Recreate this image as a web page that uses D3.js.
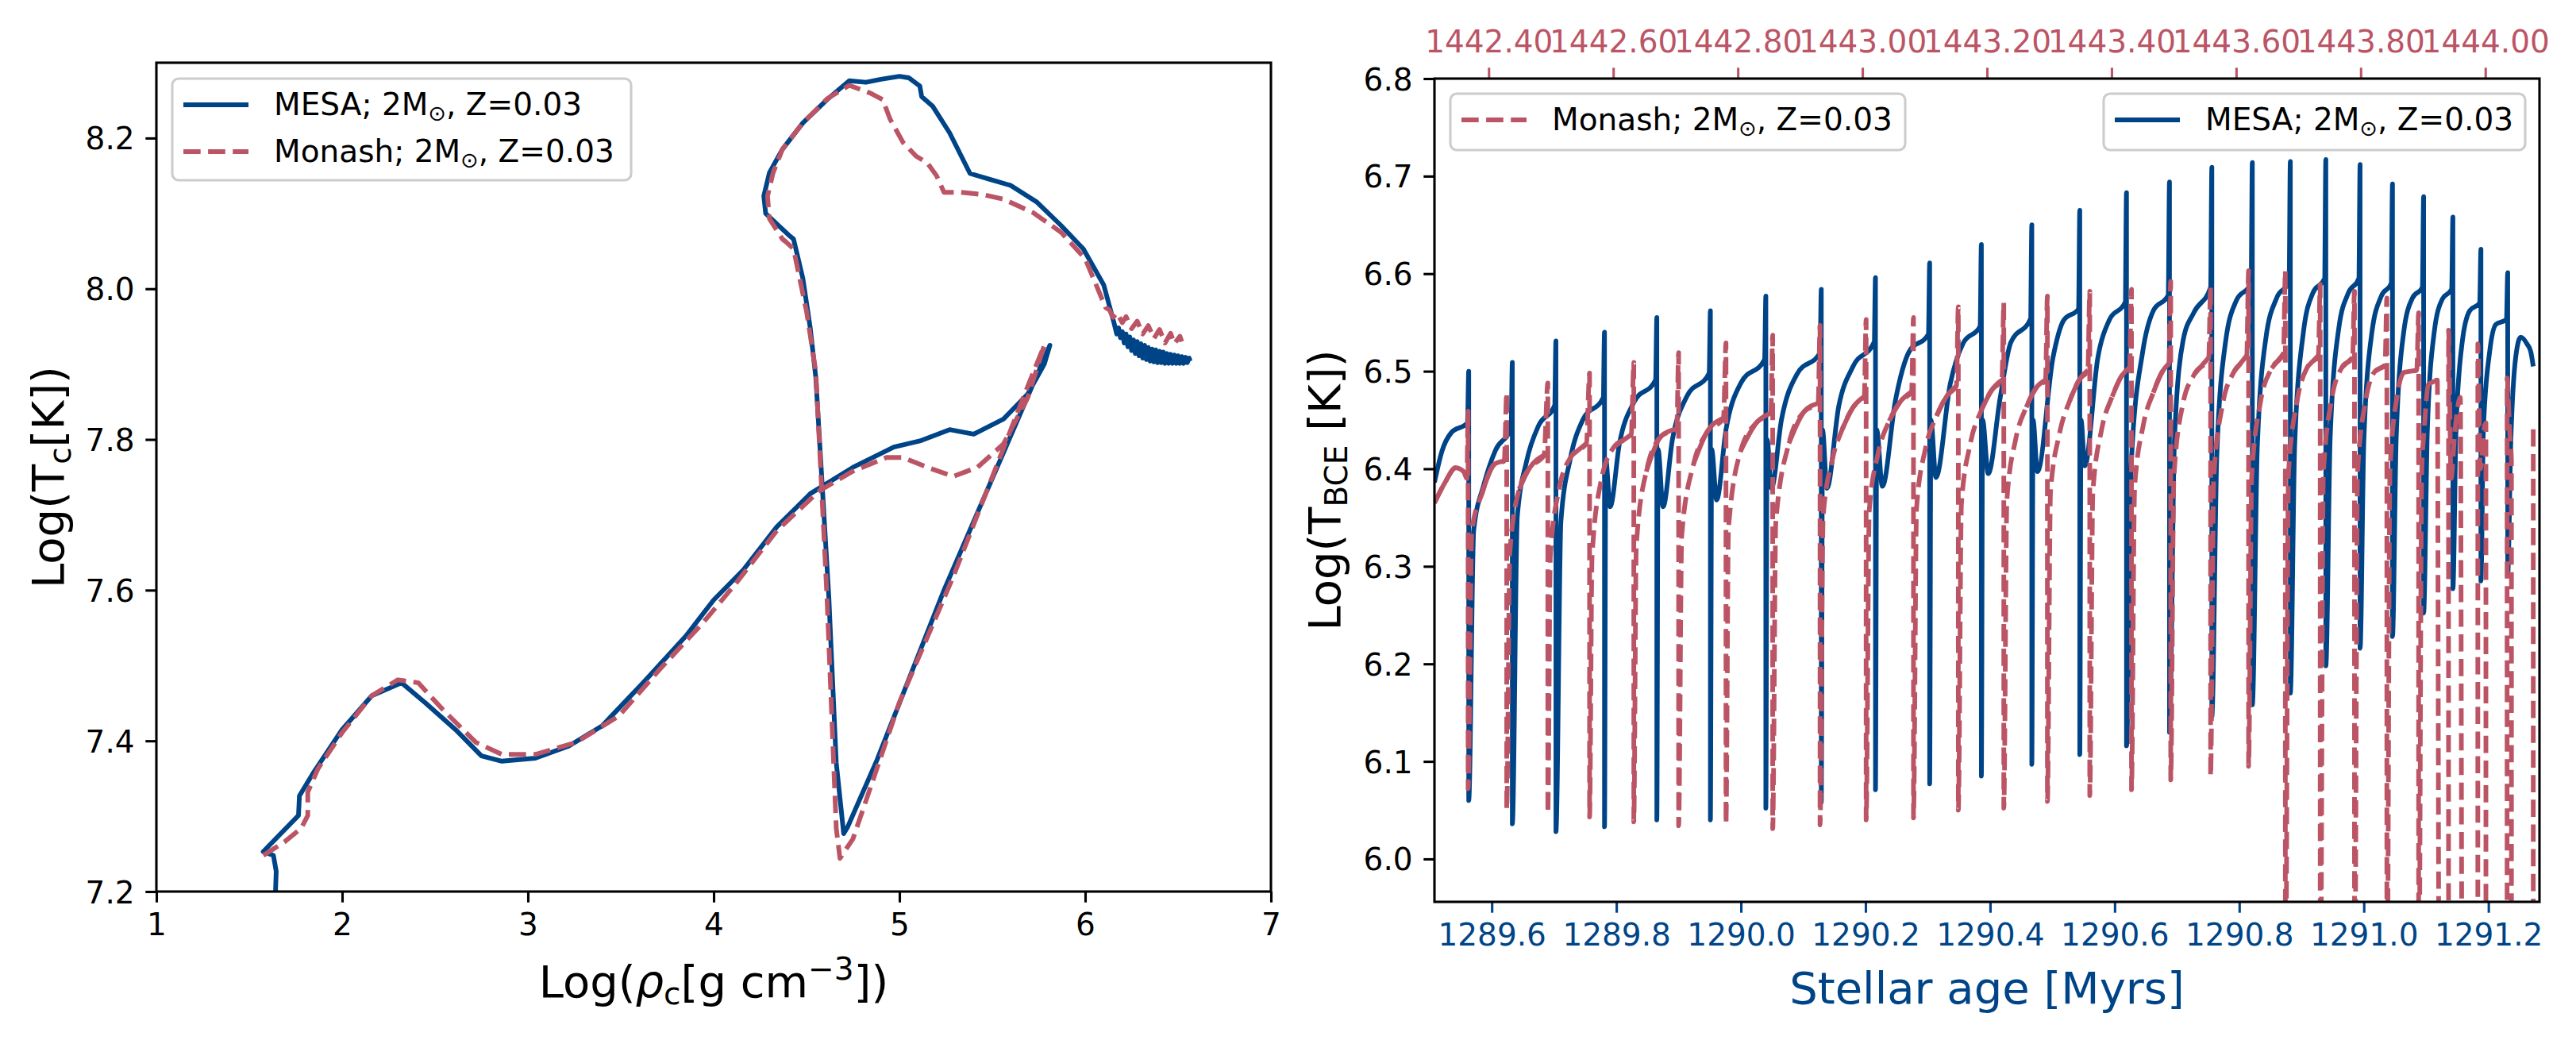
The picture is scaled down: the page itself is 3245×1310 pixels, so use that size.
<!DOCTYPE html>
<html>
<head>
<meta charset="utf-8">
<script src="https://cdn.jsdelivr.net/npm/d3@7"></script>
<style>
  body { margin: 0; background: #fff; }
  text { font-family: "DejaVu Sans", sans-serif; }
</style>
</head>
<body>
<div id="chart"></div>
<script>
// ========== Data ==========
const BLUE = "#004488";
const RED = "#BB5566";

// left panel: central density vs central temperature
const rhoTicks = [1, 2, 3, 4, 5, 6, 7];
const tcTicks = [7.2, 7.4, 7.6, 7.8, 8.0, 8.2];

const mesaCore = [
  [1.64, 7.19], [1.645, 7.227], [1.63, 7.248], [1.575, 7.253],
  [1.765, 7.301], [1.77, 7.327], [1.846, 7.358], [2.0, 7.415], [2.16, 7.46], [2.32, 7.477],
  [2.45, 7.45], [2.61, 7.415], [2.75, 7.38], [2.86, 7.373], [3.04, 7.377], [3.22, 7.393],
  [3.4, 7.42], [3.62, 7.477], [3.85, 7.539], [4.0, 7.587], [4.16, 7.627], [4.34, 7.684],
  [4.52, 7.728], [4.75, 7.763], [4.97, 7.79], [5.11, 7.798], [5.27, 7.813], [5.4, 7.807],
  [5.56, 7.827], [5.69, 7.86], [5.78, 7.9], [5.81, 7.925],
  [5.24, 7.6], [4.88, 7.375], [4.72, 7.285], [4.7, 7.277],
  [4.66, 7.371], [4.62, 7.591], [4.55, 7.882], [4.52, 7.948], [4.48, 8.014], [4.43, 8.066],
  [4.41, 8.07], [4.28, 8.1], [4.27, 8.123], [4.3, 8.154], [4.37, 8.185], [4.48, 8.22],
  [4.61, 8.251], [4.73, 8.276], [4.82, 8.274], [4.9, 8.278], [5.0, 8.282], [5.05, 8.28],
  [5.11, 8.269], [5.12, 8.255], [5.18, 8.242], [5.27, 8.207], [5.38, 8.153], [5.49, 8.145],
  [5.6, 8.137], [5.74, 8.115], [5.87, 8.084], [5.99, 8.053], [6.1, 8.005], [6.155, 7.955],
  [6.16, 7.95], [6.17, 7.94], [6.18, 7.948], [6.19, 7.935], [6.2, 7.943], [6.21, 7.928],
  [6.22, 7.94], [6.23, 7.923], [6.24, 7.936], [6.25, 7.918], [6.26, 7.932], [6.27, 7.914],
  [6.28, 7.93], [6.29, 7.911], [6.3, 7.927], [6.31, 7.908], [6.32, 7.925], [6.33, 7.906],
  [6.34, 7.922], [6.35, 7.904], [6.36, 7.92], [6.37, 7.903], [6.38, 7.919], [6.39, 7.902],
  [6.4, 7.917], [6.41, 7.902], [6.42, 7.916], [6.43, 7.901], [6.44, 7.914], [6.45, 7.901],
  [6.46, 7.913], [6.47, 7.901], [6.48, 7.912], [6.49, 7.901], [6.5, 7.911], [6.51, 7.901],
  [6.52, 7.91], [6.53, 7.901], [6.54, 7.909], [6.55, 7.902], [6.56, 7.908], [6.565, 7.904]
];

const monashCore = [
  [1.576, 7.248], [1.69, 7.266], [1.78, 7.284], [1.815, 7.301], [1.815, 7.332], [1.87, 7.363],
  [2.0, 7.411], [2.16, 7.46], [2.3, 7.481], [2.41, 7.477], [2.54, 7.442], [2.72, 7.398],
  [2.86, 7.382], [3.04, 7.382], [3.26, 7.398], [3.49, 7.433], [3.71, 7.495], [3.94, 7.556],
  [4.12, 7.609], [4.34, 7.679], [4.57, 7.732], [4.75, 7.758], [4.93, 7.776], [5.02, 7.776],
  [5.15, 7.763], [5.29, 7.751], [5.42, 7.763], [5.56, 7.794], [5.69, 7.855], [5.78, 7.925],
  [5.69, 7.87], [5.29, 7.618], [5.0, 7.451], [4.75, 7.27], [4.68, 7.244],
  [4.66, 7.284], [4.61, 7.591], [4.55, 7.89], [4.5, 7.97], [4.43, 8.053], [4.39, 8.062],
  [4.37, 8.066], [4.3, 8.093], [4.29, 8.123], [4.32, 8.154], [4.37, 8.185], [4.48, 8.22],
  [4.61, 8.252], [4.73, 8.27], [4.84, 8.26], [4.91, 8.251], [4.95, 8.225], [5.02, 8.194],
  [5.09, 8.176], [5.15, 8.167], [5.2, 8.15], [5.24, 8.128], [5.33, 8.128], [5.45, 8.125],
  [5.56, 8.119], [5.72, 8.101], [5.87, 8.075], [6.0, 8.04], [6.11, 7.975],
  [6.13, 7.972], [6.15, 7.962], [6.17, 7.968], [6.2, 7.955], [6.22, 7.963], [6.25, 7.947],
  [6.28, 7.957], [6.31, 7.94], [6.34, 7.951], [6.37, 7.934], [6.4, 7.946], [6.43, 7.928],
  [6.46, 7.941], [6.48, 7.927], [6.51, 7.937], [6.52, 7.93]
];

// right panel: temperature at base of convective envelope vs age
const ageTicks = [1289.6, 1289.8, 1290.0, 1290.2, 1290.4, 1290.6, 1290.8, 1291.0, 1291.2];
const monashAgeTicks = [1442.4, 1442.6, 1442.8, 1443.0, 1443.2, 1443.4, 1443.6, 1443.8, 1444.0];
const tbceTicks = [6.0, 6.1, 6.2, 6.3, 6.4, 6.5, 6.6, 6.7, 6.8];

const mesaEnvelope = [
  [1289.508, 6.386], [1289.52, 6.418], [1289.535, 6.437], [1289.561, 6.447],
  [1289.563, 6.5], [1289.563, 6.06], [1289.571, 6.337], [1289.587, 6.383], [1289.606, 6.419], [1289.631, 6.442],
  [1289.633, 6.509], [1289.633, 6.036], [1289.641, 6.351], [1289.656, 6.408], [1289.675, 6.444], [1289.701, 6.465],
  [1289.703, 6.531], [1289.703, 6.028], [1289.711, 6.346], [1289.726, 6.41], [1289.746, 6.45], [1289.779, 6.473],
  [1289.781, 6.54], [1289.781, 6.033], [1289.783, 6.41], [1289.79, 6.361], [1289.805, 6.426], [1289.828, 6.468], [1289.863, 6.491],
  [1289.865, 6.555], [1289.865, 6.04], [1289.867, 6.42], [1289.875, 6.361], [1289.89, 6.43], [1289.913, 6.474], [1289.949, 6.498],
  [1289.951, 6.562], [1289.951, 6.04], [1289.953, 6.42], [1289.961, 6.368], [1289.976, 6.44], [1290.0, 6.488], [1290.038, 6.512],
  [1290.04, 6.577], [1290.04, 6.052], [1290.042, 6.43], [1290.049, 6.38], [1290.065, 6.45], [1290.09, 6.497], [1290.127, 6.519],
  [1290.129, 6.584], [1290.129, 6.058], [1290.131, 6.44], [1290.138, 6.38], [1290.157, 6.464], [1290.18, 6.505], [1290.214, 6.53],
  [1290.216, 6.596], [1290.216, 6.071], [1290.218, 6.44], [1290.227, 6.382], [1290.248, 6.47], [1290.27, 6.52], [1290.301, 6.538],
  [1290.303, 6.611], [1290.303, 6.077], [1290.305, 6.45], [1290.313, 6.391], [1290.336, 6.487], [1290.357, 6.529], [1290.384, 6.546],
  [1290.386, 6.63], [1290.386, 6.085], [1290.388, 6.45], [1290.397, 6.395], [1290.416, 6.472], [1290.433, 6.529], [1290.465, 6.554],
  [1290.467, 6.65], [1290.467, 6.097], [1290.469, 6.45], [1290.476, 6.397], [1290.501, 6.514], [1290.518, 6.552], [1290.542, 6.564],
  [1290.544, 6.665], [1290.544, 6.107], [1290.546, 6.45], [1290.552, 6.403], [1290.573, 6.514], [1290.591, 6.552], [1290.617, 6.571],
  [1290.619, 6.683], [1290.619, 6.116], [1290.627, 6.41], [1290.645, 6.52], [1290.662, 6.562], [1290.686, 6.578],
  [1290.688, 6.694], [1290.688, 6.13], [1290.696, 6.43], [1290.71, 6.532], [1290.727, 6.56], [1290.754, 6.586],
  [1290.756, 6.709], [1290.756, 6.146], [1290.764, 6.414], [1290.778, 6.53], [1290.795, 6.572], [1290.819, 6.59],
  [1290.821, 6.714], [1290.821, 6.158], [1290.829, 6.422], [1290.843, 6.535], [1290.86, 6.575], [1290.88, 6.592],
  [1290.882, 6.715], [1290.882, 6.17], [1290.889, 6.424], [1290.903, 6.54], [1290.918, 6.58], [1290.937, 6.595],
  [1290.939, 6.717], [1290.939, 6.198], [1290.946, 6.432], [1290.96, 6.545], [1290.975, 6.58], [1290.992, 6.595],
  [1290.994, 6.712], [1290.994, 6.216], [1291.0, 6.428], [1291.013, 6.54], [1291.028, 6.577], [1291.044, 6.59],
  [1291.046, 6.692], [1291.046, 6.228], [1291.052, 6.432], [1291.064, 6.54], [1291.078, 6.575], [1291.094, 6.586],
  [1291.096, 6.679], [1291.096, 6.252], [1291.102, 6.44], [1291.113, 6.54], [1291.126, 6.574], [1291.141, 6.584],
  [1291.143, 6.658], [1291.143, 6.277], [1291.148, 6.44], [1291.158, 6.53], [1291.17, 6.562], [1291.186, 6.57],
  [1291.188, 6.625], [1291.188, 6.285], [1291.192, 6.441], [1291.202, 6.52], [1291.212, 6.548], [1291.229, 6.553],
  [1291.231, 6.601], [1291.231, 6.292], [1291.236, 6.428], [1291.245, 6.52], [1291.252, 6.535], [1291.262, 6.528],
  [1291.268, 6.52], [1291.272, 6.505]
];

const monashEnvelope = [
  [1289.508, 6.365], [1289.525, 6.386], [1289.542, 6.401], [1289.555, 6.397], [1289.56, 6.39],
  [1289.562, 6.459], [1289.562, 6.072], [1289.568, 6.336], [1289.584, 6.374], [1289.605, 6.405], [1289.62, 6.408],
  [1289.624, 6.478], [1289.624, 6.051], [1289.629, 6.314], [1289.644, 6.379], [1289.661, 6.401], [1289.684, 6.414],
  [1289.69, 6.488], [1289.69, 6.047], [1289.694, 6.31], [1289.708, 6.379], [1289.729, 6.414], [1289.752, 6.426],
  [1289.757, 6.498], [1289.757, 6.043], [1289.761, 6.31], [1289.775, 6.386], [1289.797, 6.423], [1289.824, 6.435],
  [1289.828, 6.509], [1289.828, 6.038], [1289.832, 6.321], [1289.848, 6.397], [1289.873, 6.434], [1289.897, 6.441],
  [1289.9, 6.519], [1289.9, 6.034], [1289.905, 6.332], [1289.924, 6.405], [1289.945, 6.437], [1289.972, 6.452],
  [1289.976, 6.529], [1289.976, 6.036], [1289.98, 6.339], [1290.0, 6.419], [1290.026, 6.448], [1290.048, 6.457],
  [1290.051, 6.537], [1290.051, 6.031], [1290.056, 6.345], [1290.077, 6.426], [1290.102, 6.459], [1290.124, 6.467],
  [1290.127, 6.547], [1290.127, 6.035], [1290.132, 6.351], [1290.147, 6.41], [1290.163, 6.441], [1290.18, 6.463], [1290.198, 6.474],
  [1290.201, 6.553], [1290.201, 6.04], [1290.206, 6.357], [1290.22, 6.415], [1290.238, 6.449], [1290.256, 6.469], [1290.274, 6.479],
  [1290.277, 6.555], [1290.277, 6.042], [1290.282, 6.36], [1290.296, 6.42], [1290.314, 6.454], [1290.331, 6.475], [1290.346, 6.485],
  [1290.349, 6.566], [1290.349, 6.05], [1290.354, 6.364], [1290.368, 6.425], [1290.386, 6.46], [1290.403, 6.481], [1290.419, 6.491],
  [1290.422, 6.57], [1290.422, 6.052], [1290.427, 6.368], [1290.441, 6.43], [1290.458, 6.463], [1290.474, 6.483], [1290.489, 6.491],
  [1290.492, 6.577], [1290.492, 6.059], [1290.497, 6.376], [1290.511, 6.435], [1290.528, 6.47], [1290.544, 6.492], [1290.557, 6.501],
  [1290.56, 6.582], [1290.56, 6.065], [1290.565, 6.376], [1290.579, 6.44], [1290.596, 6.474], [1290.611, 6.495], [1290.624, 6.504],
  [1290.627, 6.584], [1290.627, 6.071], [1290.632, 6.38], [1290.646, 6.445], [1290.662, 6.478], [1290.676, 6.499], [1290.687, 6.508],
  [1290.69, 6.592], [1290.69, 6.081], [1290.695, 6.39], [1290.709, 6.465], [1290.728, 6.497], [1290.751, 6.514],
  [1290.754, 6.587], [1290.754, 6.085], [1290.759, 6.39], [1290.773, 6.465], [1290.792, 6.5], [1290.812, 6.516],
  [1290.815, 6.603], [1290.815, 6.095], [1290.82, 6.392], [1290.834, 6.468], [1290.852, 6.503], [1290.871, 6.518],
  [1290.874, 6.603], [1290.874, 5.8], [1290.879, 6.395], [1290.893, 6.47], [1290.91, 6.505], [1290.927, 6.516],
  [1290.93, 6.589], [1290.93, 5.8], [1290.935, 6.395], [1290.948, 6.47], [1290.965, 6.504], [1290.982, 6.514],
  [1290.985, 6.582], [1290.985, 5.8], [1290.99, 6.397], [1291.003, 6.47], [1291.018, 6.5], [1291.034, 6.506],
  [1291.037, 6.575], [1291.037, 5.8], [1291.042, 6.398], [1291.053, 6.473], [1291.065, 6.499], [1291.085, 6.501],
  [1291.088, 6.56], [1291.088, 5.8], [1291.093, 6.398], [1291.097, 6.441], [1291.104, 6.487], [1291.118, 6.491],
  [1291.121, 5.8], [1291.136, 5.8], [1291.136, 6.542], [1291.14, 6.39], [1291.146, 6.437], [1291.155, 6.473],
  [1291.158, 5.8], [1291.183, 5.8], [1291.183, 6.528], [1291.187, 6.4], [1291.193, 6.441], [1291.196, 6.447],
  [1291.196, 5.8], [1291.23, 5.8], [1291.23, 6.493], [1291.234, 6.44], [1291.237, 6.408], [1291.237, 5.8],
  [1291.272, 5.8], [1291.272, 6.443]
];

// ========== Layout ==========
const width = 3245;
const height = 1310;
const coreBox = { left: 197, right: 1601, top: 79, bottom: 1123 };
const envBox = { left: 1807, right: 3199, top: 99, bottom: 1136 };
const TICK = 13.7;
const LW = 5.9;
const DASH = "21.7,9.4";

const svg = d3
  .select("#chart")
  .append("svg")
  .attr("width", width)
  .attr("height", height);

const defs = svg.append("defs");
[["clip-core", coreBox], ["clip-env", envBox]].forEach(([id, b]) => {
  defs
    .append("clipPath")
    .attr("id", id)
    .append("rect")
    .attr("x", b.left)
    .attr("y", b.top)
    .attr("width", b.right - b.left)
    .attr("height", b.bottom - b.top);
});

function styleAxis(g, color) {
  g.attr("font-family", "DejaVu Sans").attr("font-size", 39);
  g.select(".domain").remove();
  g.selectAll(".tick line").attr("stroke", color).attr("stroke-width", 3.1);
  g.selectAll(".tick text").attr("fill", color);
}

function drawFrame(b) {
  svg
    .append("rect")
    .attr("x", b.left)
    .attr("y", b.top)
    .attr("width", b.right - b.left)
    .attr("height", b.bottom - b.top)
    .attr("fill", "none")
    .attr("stroke", "#000")
    .attr("stroke-width", 3.1);
}

function drawLegend(x, y, w, h, rows) {
  const g = svg.append("g");
  g.append("rect")
    .attr("x", x)
    .attr("y", y)
    .attr("width", w)
    .attr("height", h)
    .attr("rx", 8)
    .attr("fill", "#fff")
    .attr("fill-opacity", 0.8)
    .attr("stroke", "#cccccc")
    .attr("stroke-width", 3.1);
  rows.forEach((r, i) => {
    const ly = y + 33 + i * 59;
    g.append("line")
      .attr("x1", x + 14)
      .attr("x2", x + 96)
      .attr("y1", ly)
      .attr("y2", ly)
      .attr("stroke", r.color)
      .attr("stroke-width", LW)
      .attr("stroke-dasharray", r.dashed ? DASH : null);
    const t = g
      .append("text")
      .attr("x", x + 128)
      .attr("y", ly + 13)
      .attr("font-size", 39)
      .attr("fill", "#000");
    t.append("tspan").text(r.name + "; 2M");
    t.append("tspan").attr("font-size", 27).attr("dy", 7).text("\u2299");
    t.append("tspan").attr("dy", -7).text(", Z=0.03");
  });
}

// ========== Left panel: core track ==========
const xRho = d3.scaleLinear().domain([1, 7]).range([coreBox.left, coreBox.right]);
const yTc = d3.scaleLinear().domain([7.2, 8.3]).range([coreBox.bottom, coreBox.top]);

svg
  .append("g")
  .attr("transform", `translate(0,${coreBox.bottom})`)
  .call(d3.axisBottom(xRho).tickValues(rhoTicks).tickFormat(d3.format("d")).tickSize(TICK).tickPadding(TICK))
  .call((g) => styleAxis(g, "#000"));

svg
  .append("g")
  .attr("transform", `translate(${coreBox.left},0)`)
  .call(d3.axisLeft(yTc).tickValues(tcTicks).tickFormat(d3.format(".1f")).tickSize(TICK).tickPadding(TICK))
  .call((g) => styleAxis(g, "#000"))
  .call((g) => g.selectAll(".tick text").attr("dy", "0.36em"));

const coreLine = d3
  .line()
  .x((d) => xRho(d[0]))
  .y((d) => yTc(d[1]));

const coreG = svg.append("g").attr("clip-path", "url(#clip-core)");
coreG
  .append("path")
  .datum(mesaCore)
  .attr("fill", "none")
  .attr("stroke", BLUE)
  .attr("stroke-width", LW)
  .attr("stroke-linejoin", "round")
  .attr("d", coreLine);
coreG
  .append("path")
  .datum(monashCore)
  .attr("fill", "none")
  .attr("stroke", RED)
  .attr("stroke-width", LW)
  .attr("stroke-linejoin", "round")
  .attr("stroke-dasharray", DASH)
  .attr("d", coreLine);

drawFrame(coreBox);

// x label: Log(rho_c [g cm^-3])
const xl = svg
  .append("text")
  .attr("x", (coreBox.left + coreBox.right) / 2)
  .attr("y", 1256)
  .attr("text-anchor", "middle")
  .attr("font-size", 56);
xl.append("tspan").text("Log(");
xl.append("tspan").attr("font-style", "italic").text("\u03C1");
xl.append("tspan").attr("font-size", 39).attr("dy", 9).text("c");
xl.append("tspan").attr("dy", -9).text("[g cm");
xl.append("tspan").attr("font-size", 39).attr("dy", -22).text("\u22123");
xl.append("tspan").attr("dy", 22).text("])");

// y label: Log(T_c[K])
const yl = svg
  .append("text")
  .attr("transform", `translate(80,${(coreBox.top + coreBox.bottom) / 2}) rotate(-90)`)
  .attr("text-anchor", "middle")
  .attr("font-size", 56);
yl.append("tspan").text("Log(T");
yl.append("tspan").attr("font-size", 39).attr("dy", 9).text("c");
yl.append("tspan").attr("dy", -9).text("[K])");

drawLegend(217, 99, 578, 128, [
  { name: "MESA", color: BLUE, dashed: false },
  { name: "Monash", color: RED, dashed: true },
]);

// ========== Right panel: envelope temperature ==========
const xAge = d3.scaleLinear().domain([1289.508, 1291.282]).range([envBox.left, envBox.right]);
const xAgeMonash = d3.scaleLinear().domain([1442.313, 1444.087]).range([envBox.left, envBox.right]);
const yTbce = d3.scaleLinear().domain([5.956, 6.8]).range([envBox.bottom, envBox.top]);

svg
  .append("g")
  .attr("transform", `translate(0,${envBox.bottom})`)
  .call(d3.axisBottom(xAge).tickValues(ageTicks).tickFormat(d3.format(".1f")).tickSize(TICK).tickPadding(TICK))
  .call((g) => styleAxis(g, BLUE));

svg
  .append("g")
  .attr("transform", `translate(0,${envBox.top})`)
  .call(d3.axisTop(xAgeMonash).tickValues(monashAgeTicks).tickFormat(d3.format(".2f")).tickSize(TICK).tickPadding(TICK))
  .call((g) => styleAxis(g, RED))
  .call((g) => g.selectAll(".tick text").attr("dy", "-0.15em"));

svg
  .append("g")
  .attr("transform", `translate(${envBox.left},0)`)
  .call(d3.axisLeft(yTbce).tickValues(tbceTicks).tickFormat(d3.format(".1f")).tickSize(TICK).tickPadding(TICK))
  .call((g) => styleAxis(g, "#000"))
  .call((g) => g.selectAll(".tick text").attr("dy", "0.36em"));

const envLine = d3
  .line()
  .curve(d3.curveMonotoneX)
  .x((d) => xAge(d[0]))
  .y((d) => yTbce(d[1]));

// stretches of slow recovery, where the dense Monash samples read as a solid stroke
function slowRuns(data, maxSlope) {
  const runs = [];
  let run = [];
  for (let i = 1; i < data.length; i++) {
    const dx = xAge(data[i][0]) - xAge(data[i - 1][0]);
    const dy = yTbce(data[i][1]) - yTbce(data[i - 1][1]);
    if (dx > 0 && Math.abs(dy / dx) < maxSlope) {
      if (!run.length) run.push(data[i - 1]);
      run.push(data[i]);
    } else if (run.length) {
      runs.push(run);
      run = [];
    }
  }
  if (run.length) runs.push(run);
  return runs;
}

const envG = svg.append("g").attr("clip-path", "url(#clip-env)");
envG
  .append("path")
  .datum(mesaEnvelope)
  .attr("fill", "none")
  .attr("stroke", BLUE)
  .attr("stroke-width", LW)
  .attr("stroke-linejoin", "round")
  .attr("d", envLine);
envG
  .append("path")
  .datum(monashEnvelope)
  .attr("fill", "none")
  .attr("stroke", RED)
  .attr("stroke-width", LW)
  .attr("stroke-linejoin", "round")
  .attr("stroke-dasharray", DASH)
  .attr("d", envLine);
envG
  .selectAll(".monash-slow")
  .data(slowRuns(monashEnvelope, 2.5))
  .enter()
  .append("path")
  .attr("class", "monash-slow")
  .attr("fill", "none")
  .attr("stroke", RED)
  .attr("stroke-width", LW)
  .attr("stroke-linejoin", "round")
  .attr("d", envLine);

drawFrame(envBox);

svg
  .append("text")
  .attr("x", (envBox.left + envBox.right) / 2)
  .attr("y", 1264)
  .attr("text-anchor", "middle")
  .attr("font-size", 56)
  .attr("fill", BLUE)
  .text("Stellar age [Myrs]");

const yr = svg
  .append("text")
  .attr("transform", `translate(1688,${(envBox.top + envBox.bottom) / 2}) rotate(-90)`)
  .attr("text-anchor", "middle")
  .attr("font-size", 56);
yr.append("tspan").text("Log(T");
yr.append("tspan").attr("font-size", 39).attr("dy", 9).text("BCE");
yr.append("tspan").attr("dy", -9).text(" [K])");

drawLegend(1827, 118, 573, 71, [{ name: "Monash", color: RED, dashed: true }]);
drawLegend(2650, 118, 531, 71, [{ name: "MESA", color: BLUE, dashed: false }]);
</script>
</body>
</html>
